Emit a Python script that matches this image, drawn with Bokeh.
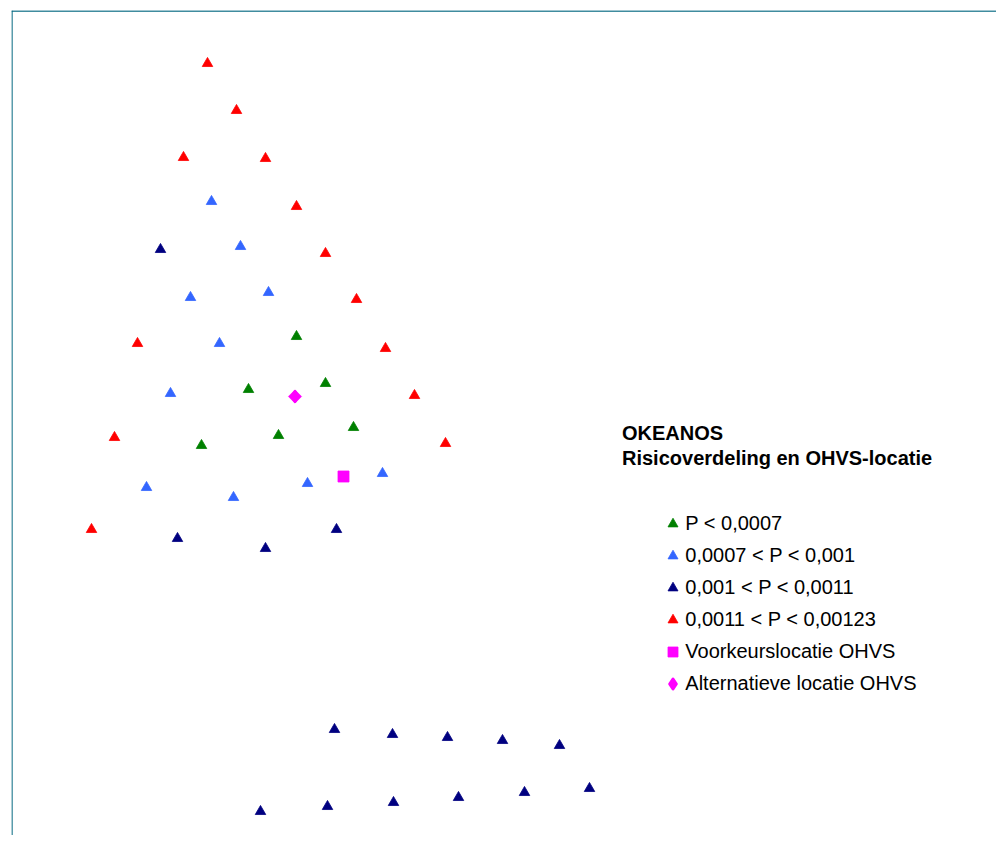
from bokeh.plotting import figure
from bokeh.models import Range1d, Span, Label, Legend, LegendItem
from bokeh.embed import file_html
from bokeh.resources import INLINE
import math

# ---- data (map positions) ----
green_x = [296, 248, 325, 278, 201, 353]
green_y = [336, 389, 383, 435, 445, 427]

blue_x = [211, 240, 190, 268, 219, 170, 146, 233, 307, 382]
blue_y = [201, 246, 297, 292, 343, 393, 487, 497, 483, 473]

navy_x = [160, 177, 265, 336, 334, 392, 447, 502, 559, 260, 327, 393, 458, 524, 589]
navy_y = [249, 538, 548, 529, 729, 734, 737, 740, 745, 811, 806, 802, 797, 792, 788]

red_x = [207, 236, 183, 265, 296, 325, 356, 385, 137, 414, 114, 445, 91]
red_y = [63, 110, 157, 158, 206, 253, 299, 348, 343, 395, 437, 443, 529]

pref_x = [343]
pref_y = [476]
alt_x = [294.5]
alt_y = [396]

labels = ["P < 0,0007", "0,0007 < P < 0,001", "0,001 < P < 0,0011",
          "0,0011 < P < 0,00123", "Voorkeurslocatie OHVS", "Alternatieve locatie OHVS"]
title_lines = ["OKEANOS", "Risicoverdeling en OHVS-locatie"]

GREEN = "#008000"
BLUE = "#3366FF"
NAVY = "#000080"
RED = "#FF0000"
MAGENTA = "#FF00FF"
FONT = "Liberation Sans"

p = figure(width=996, height=835, output_backend="svg", toolbar_location=None,
           x_range=Range1d(11, 996), y_range=Range1d(835, 10),
           x_axis_location=None, y_axis_location=None,
           min_border_left=11, min_border_top=10, min_border_right=0, min_border_bottom=0)
p.grid.visible = False
p.outline_line_color = None
p.background_fill_color = "white"
p.border_fill_color = "white"

p.add_layout(Span(location=11.5, dimension="height", line_color="#00667F", line_width=1.3))
p.add_layout(Span(location=10.5, dimension="width", line_color="#00667F", line_width=1.3))

def tri(xs, ys, c):
    return p.scatter(xs, ys, marker="triangle", size=10.5, fill_color=c, line_color=c, line_width=0.8)

r_g = tri(green_x, green_y, GREEN)
r_b = tri(blue_x, blue_y, BLUE)
r_n = tri(navy_x, navy_y, NAVY)
r_r = tri(red_x, red_y, RED)
r_sq = p.scatter(pref_x, pref_y, marker="square", size=11, fill_color=MAGENTA, line_color=MAGENTA, line_width=0.8)
# diamond marker (gives the legend swatch; covered by the rotated square below)
r_di_leg = p.scatter(alt_x, alt_y, marker="diamond", size=10, fill_color=MAGENTA, line_color=MAGENTA,
                     line_width=3, line_join="round")
r_di = p.scatter(alt_x, alt_y, marker="square", size=9.4, angle=math.pi / 4,
                 fill_color=MAGENTA, line_color=MAGENTA, line_width=0.5)

legend = Legend(items=[LegendItem(label=l, renderers=[r]) for l, r in
                       zip(labels, [r_g, r_b, r_n, r_r, r_sq, r_di_leg])],
                location=(649.3, 139.2), orientation="vertical",
                border_line_color=None, background_fill_alpha=0,
                padding=0, margin=0, spacing=7, glyph_width=25, glyph_height=25,
                label_standoff=-2, label_text_font=FONT, label_text_font_size="20px",
                label_text_color="black")
p.add_layout(legend)

for i, t in enumerate(title_lines):
    p.add_layout(Label(x=621.5, y=432 + 25.5 * i, text=t, text_font=FONT, text_font_size="20px",
                       text_font_style="bold", text_color="black", text_baseline="alphabetic"))

open("out.html", "w").write(file_html(p, INLINE))
